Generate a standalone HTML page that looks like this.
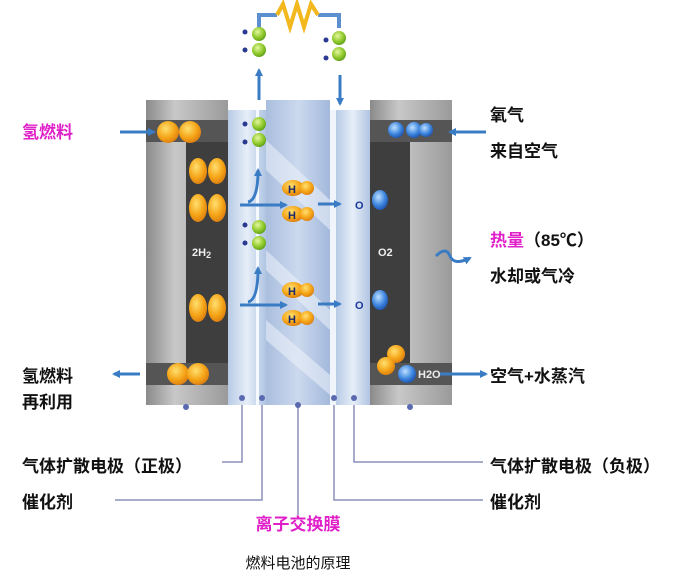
<!DOCTYPE html>
<html><head><meta charset="utf-8"><style>
body{margin:0;background:#fff;width:678px;height:580px;overflow:hidden}
svg text{font-family:"Liberation Sans","Noto Sans CJK SC",sans-serif}
.l{font-size:17px;font-weight:bold;fill:#111}
</style></head><body>
<svg width="678" height="580" viewBox="0 0 678 580" xmlns="http://www.w3.org/2000/svg">
<defs>
<linearGradient id="gr" x1="0" x2="1"><stop offset="0" stop-color="#8a8a8a"/><stop offset=".35" stop-color="#c8c8c8"/><stop offset="1" stop-color="#9a9a9a"/></linearGradient>
<linearGradient id="bl" x1="0" x2="1"><stop offset="0" stop-color="#b8cbe6"/><stop offset=".5" stop-color="#e6eef8"/><stop offset="1" stop-color="#b0c4e2"/></linearGradient>
<linearGradient id="mb" x1="0" x2="1"><stop offset="0" stop-color="#a9bede"/><stop offset=".5" stop-color="#ccd9ee"/><stop offset="1" stop-color="#a3b9dc"/></linearGradient>
<radialGradient id="or" cx=".4" cy=".35" r=".7"><stop offset="0" stop-color="#ffe070"/><stop offset=".6" stop-color="#f5a417"/><stop offset="1" stop-color="#d97a10"/></radialGradient>
<radialGradient id="gn" cx=".4" cy=".35" r=".7"><stop offset="0" stop-color="#e4f7a0"/><stop offset=".6" stop-color="#8fc92a"/><stop offset="1" stop-color="#5a9a1a"/></radialGradient>
<radialGradient id="bu" cx=".4" cy=".35" r=".7"><stop offset="0" stop-color="#bfe0ff"/><stop offset=".6" stop-color="#3d86df"/><stop offset="1" stop-color="#1d4fa8"/></radialGradient>
<marker id="ah" markerWidth="8" markerHeight="8" refX="6" refY="4" orient="auto" markerUnits="userSpaceOnUse"><path d="M0,0 L8,4 L0,8 Z" fill="#3a7cc4"/></marker>
</defs>
<rect x="146" y="100" width="82" height="305" fill="url(#gr)"/>
<rect x="186" y="120" width="42" height="260" fill="#3e3e3e"/>
<rect x="146" y="120" width="82" height="22" fill="#555"/>
<rect x="146" y="363" width="82" height="22" fill="#555"/>
<rect x="370" y="100" width="82" height="305" fill="url(#gr)"/>
<rect x="370" y="120" width="40" height="260" fill="#3e3e3e"/>
<rect x="370" y="120" width="82" height="22" fill="#555"/>
<rect x="370" y="363" width="82" height="22" fill="#555"/>
<rect x="228" y="110" width="38" height="295" fill="url(#bl)"/>
<rect x="256" y="110" width="3" height="295" fill="#f4f8ff"/>
<rect x="266" y="100" width="64" height="305" fill="url(#mb)"/>
<g fill="#eef3fb" opacity=".55">
<polygon points="266,140 330,200 330,230 266,170"/>
<polygon points="266,250 330,310 330,330 266,270"/>
<polygon points="266,320 330,375 330,395 266,340"/>
</g>
<rect x="330" y="110" width="6" height="295" fill="#f0f5fc"/>
<rect x="336" y="110" width="34" height="295" fill="url(#bl)"/>
<path d="M259,28 V15 H277" stroke="#5b8fd0" stroke-width="4" fill="none"/>
<path d="M318,15 H339 V28" stroke="#5b8fd0" stroke-width="4" fill="none"/>
<polyline points="277,15 283,4 290,27 297,4 304,27 311,4 318,15" stroke="#f2b81e" stroke-width="4" fill="none"/>
<line x1="259" y1="100" x2="259" y2="70" stroke="#3a7cc4" stroke-width="3" marker-end="url(#ah)"/>
<line x1="340" y1="75" x2="340" y2="104" stroke="#3a7cc4" stroke-width="3" marker-end="url(#ah)"/>
<g fill="url(#gn)">
<circle cx="259" cy="34" r="7"/><circle cx="259" cy="50" r="7"/>
<circle cx="339" cy="38" r="7"/><circle cx="339" cy="54" r="7"/>
<circle cx="259" cy="124" r="7"/><circle cx="259" cy="140" r="7"/>
<circle cx="259" cy="227" r="7"/><circle cx="259" cy="243" r="7"/>
</g>
<g fill="#2a3a90">
<circle cx="245" cy="32" r="2.5"/><circle cx="245" cy="50" r="2.5"/>
<circle cx="326" cy="40" r="2.5"/><circle cx="326" cy="58" r="2.5"/>
<circle cx="245" cy="124" r="2.5"/><circle cx="245" cy="142" r="2.5"/>
<circle cx="245" cy="225" r="2.5"/><circle cx="245" cy="243" r="2.5"/>
</g>
<g stroke="#3a7cc4" stroke-width="3" fill="none" marker-end="url(#ah)">
<path d="M248,202 Q258,200 258,170"/>
<path d="M248,302 Q258,300 258,268"/>
<line x1="240" y1="205" x2="286" y2="205"/>
<line x1="240" y1="305" x2="286" y2="305"/>
<line x1="318" y1="204" x2="340" y2="204"/>
<line x1="318" y1="304" x2="340" y2="304"/>
<line x1="120" y1="132" x2="154" y2="132"/>
<line x1="140" y1="374" x2="114" y2="374"/>
<line x1="486" y1="132" x2="450" y2="132"/>
<line x1="440" y1="374" x2="486" y2="374"/>
<path d="M436,256 Q446,246 450,256 T470,258"/>
</g>
<g fill="url(#or)">
<ellipse cx="293" cy="188" rx="11" ry="8"/><circle cx="307" cy="188" r="7"/>
<ellipse cx="293" cy="214" rx="11" ry="8"/><circle cx="307" cy="214" r="7"/>
<ellipse cx="293" cy="290" rx="11" ry="8"/><circle cx="307" cy="290" r="7"/>
<ellipse cx="293" cy="318" rx="11" ry="8"/><circle cx="307" cy="318" r="7"/>
<circle cx="168" cy="132" r="11"/><circle cx="190" cy="132" r="11"/>
<ellipse cx="198" cy="171" rx="9" ry="13"/><ellipse cx="217" cy="171" rx="9" ry="13"/>
<ellipse cx="198" cy="208" rx="9" ry="14"/><ellipse cx="217" cy="208" rx="9" ry="14"/>
<ellipse cx="198" cy="308" rx="9" ry="14"/><ellipse cx="217" cy="308" rx="9" ry="14"/>
<circle cx="178" cy="374" r="11"/><circle cx="198" cy="374" r="11"/>
<circle cx="396" cy="354" r="9"/><circle cx="386" cy="366" r="9"/>
</g>
<g font-size="11" font-weight="bold" fill="#1a2a6a">
<text x="288" y="193">H</text><text x="288" y="219">H</text>
<text x="288" y="295">H</text><text x="288" y="323">H</text>
<text x="355" y="209" fill="#1a3a9a">O</text><text x="355" y="309" fill="#1a3a9a">O</text>
</g>
<g fill="url(#bu)">
<circle cx="396" cy="130" r="8"/><circle cx="414" cy="130" r="8"/><circle cx="426" cy="130" r="7"/>
<ellipse cx="380" cy="200" rx="8" ry="10"/><ellipse cx="380" cy="300" rx="8" ry="10"/>
<circle cx="407" cy="374" r="9"/>
</g>
<text x="192" y="256" font-size="11" font-weight="bold" fill="#eee">2H<tspan font-size="9" dy="2">2</tspan></text>
<text x="378" y="256" font-size="11" font-weight="bold" fill="#eee">O2</text>
<text x="418" y="378" font-size="11" font-weight="bold" fill="#eee">H2O</text>
<g stroke="#8890b8" stroke-width="1.5" fill="none">
<path d="M242,405 V462 H222"/>
<path d="M262,405 V500 H115"/>
<path d="M298,405 V515"/>
<path d="M334,405 V500 H483"/>
<path d="M354,405 V462 H483"/>
</g>
<g fill="#5a6ab0">
<circle cx="186" cy="407" r="3"/><circle cx="242" cy="398" r="3"/><circle cx="262" cy="398" r="3"/>
<circle cx="298" cy="405" r="3"/><circle cx="334" cy="398" r="3"/><circle cx="354" cy="398" r="3"/><circle cx="410" cy="407" r="3"/>
</g>
<text x="22" y="138" class="l" style="fill:#e020c8">氢燃料</text>
<text x="490" y="121" class="l">氧气</text>
<text x="490" y="157" class="l">来自空气</text>
<text x="490" y="246" class="l"><tspan style="fill:#e020c8">热量</tspan>（85℃）</text>
<text x="490" y="282" class="l">水却或气冷</text>
<text x="490" y="382" class="l">空气+水蒸汽</text>
<text x="22" y="382" class="l">氢燃料</text>
<text x="22" y="408" class="l">再利用</text>
<text x="22" y="472" class="l">气体扩散电极（正极）</text>
<text x="22" y="508" class="l">催化剂</text>
<text x="490" y="472" class="l">气体扩散电极（负极）</text>
<text x="490" y="508" class="l">催化剂</text>
<text x="298" y="530" class="l" text-anchor="middle" style="fill:#e020c8">离子交换膜</text>
<text x="298" y="568" font-size="15" text-anchor="middle" fill="#111">燃料电池的原理</text>
</svg>
</body></html>
